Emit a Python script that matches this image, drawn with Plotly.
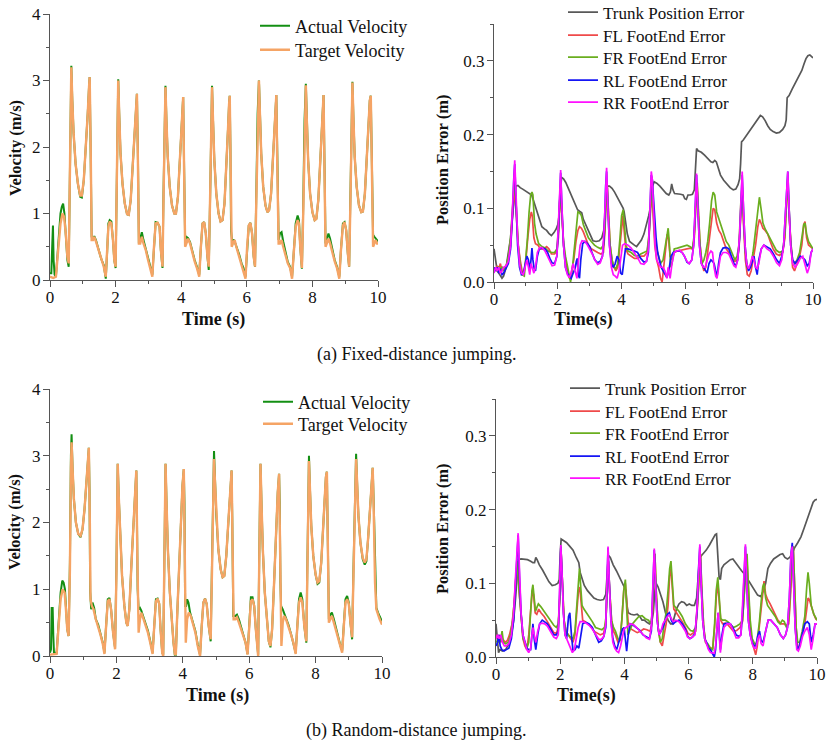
import plotly.graph_objects as go

# ---------------- DATA ----------------
# (a) Fixed-distance jumping : velocity (time s, m/s)
fixed_actual_vel = [
 (0.00,0.1),(0.04,0.1),(0.07,0.55),(0.09,0.82),(0.11,0.3),(0.14,0.08),(0.18,0.05),(0.25,0.5),(0.32,1.0),(0.36,1.1),(0.40,1.15),(0.44,1.0),(0.48,0.7),(0.53,0.3),(0.57,0.2),(0.60,1.3),(0.63,2.9),(0.65,3.22),
 (0.68,2.7),(0.72,2.2),(0.78,1.75),(0.85,1.45),(0.92,1.25),(0.97,1.24),(1.03,1.5),(1.09,1.95),(1.15,2.5),(1.19,2.9),(1.21,3.05),(1.23,2.3),(1.25,1.05),(1.27,0.65),(1.31,0.6),(1.35,0.66),(1.40,0.6),(1.48,0.45),(1.56,0.32),(1.64,0.22),(1.70,0.02),(1.74,0.4),(1.78,0.85),(1.82,0.9),(1.87,0.88),(1.92,0.6),(1.96,0.3),(2.00,0.18),(2.03,1.3),(2.06,2.5),(2.08,3.02),
 (2.11,2.5),(2.15,1.9),(2.21,1.45),(2.28,1.15),(2.35,0.99),(2.40,0.98),(2.46,1.2),(2.52,1.7),(2.58,2.3),(2.62,2.65),(2.65,2.8),(2.68,1.9),(2.71,0.55),(2.75,0.62),(2.80,0.72),(2.85,0.6),(2.92,0.45),(2.99,0.3),(3.06,0.2),(3.12,0.08),(3.17,0.5),(3.22,0.87),(3.28,0.86),(3.34,0.8),(3.38,0.45),(3.43,0.18),(3.46,1.3),(3.49,2.4),(3.52,2.92),
 (3.55,2.4),(3.59,1.85),(3.65,1.4),(3.72,1.12),(3.79,1.0),(3.84,1.0),(3.90,1.25),(3.96,1.8),(4.01,2.4),(4.04,2.7),(4.06,2.75),(4.08,2.0),(4.10,0.93),(4.12,0.6),(4.16,0.65),(4.21,0.63),(4.27,0.57),(4.34,0.42),(4.41,0.3),(4.48,0.2),(4.55,0.08),(4.60,0.5),(4.65,0.85),(4.70,0.87),(4.75,0.7),(4.80,0.35),(4.84,0.15),(4.88,1.2),(4.91,2.4),(4.94,2.92),
 (4.97,2.4),(5.01,1.8),(5.07,1.3),(5.14,1.0),(5.20,0.88),(5.26,0.9),(5.32,1.15),(5.38,1.7),(5.43,2.3),(5.46,2.65),(5.48,2.77),(5.50,2.0),(5.52,0.73),(5.55,0.6),(5.60,0.6),(5.65,0.55),(5.70,0.48),(5.77,0.38),(5.84,0.25),(5.90,0.18),(5.96,0.05),(6.01,0.5),(6.06,0.82),(6.11,0.86),(6.16,0.7),(6.21,0.35),(6.25,0.2),(6.29,1.3),(6.33,2.5),(6.37,3.0),
 (6.40,2.5),(6.44,1.9),(6.50,1.4),(6.57,1.12),(6.63,1.02),(6.68,1.05),(6.74,1.3),(6.80,1.85),(6.85,2.4),(6.88,2.7),(6.90,2.78),(6.93,1.9),(6.97,0.6),(7.01,0.7),(7.06,0.72),(7.11,0.58),(7.18,0.4),(7.25,0.27),(7.32,0.2),(7.38,0.05),(7.43,0.4),(7.49,0.85),(7.55,0.97),(7.59,0.9),(7.63,0.5),(7.68,0.17),(7.72,1.1),(7.76,2.4),(7.80,2.95),
 (7.83,2.4),(7.87,1.8),(7.93,1.3),(8.00,1.02),(8.07,0.9),(8.12,0.92),(8.18,1.2),(8.24,1.8),(8.29,2.4),(8.32,2.7),(8.34,2.78),(8.37,1.7),(8.40,0.55),(8.44,0.62),(8.49,0.7),(8.54,0.62),(8.61,0.45),(8.68,0.3),(8.75,0.2),(8.82,0.05),(8.87,0.45),(8.93,0.85),(8.98,0.87),(9.03,0.75),(9.08,0.4),(9.12,0.2),(9.16,1.3),(9.19,2.4),(9.22,2.98),
 (9.25,2.45),(9.29,1.85),(9.35,1.4),(9.42,1.12),(9.49,1.02),(9.54,1.03),(9.60,1.3),(9.66,1.85),(9.71,2.4),(9.75,2.7),(9.78,2.77),(9.80,1.9),(9.82,1.05),(9.85,0.68),(9.89,0.65),(9.93,0.62),(9.97,0.6),(10.0,0.58)]

fixed_target_vel = [
 (0.00,0.05),(0.10,0.03),(0.18,0.05),(0.25,0.45),(0.32,0.85),(0.38,1.0),(0.43,0.95),(0.48,0.7),(0.53,0.35),(0.57,0.25),(0.60,1.2),(0.63,2.8),(0.65,3.2),
 (0.68,2.7),(0.72,2.2),(0.78,1.75),(0.85,1.45),(0.92,1.27),(0.97,1.27),(1.03,1.5),(1.09,1.95),(1.15,2.5),(1.19,2.9),(1.21,3.05),(1.24,2.0),(1.27,0.6),(1.31,0.6),(1.35,0.65),(1.40,0.58),(1.48,0.45),(1.56,0.32),(1.64,0.2),(1.70,0.05),(1.74,0.4),(1.78,0.8),(1.82,0.88),(1.87,0.85),(1.92,0.6),(1.96,0.3),(2.00,0.2),(2.03,1.2),(2.06,2.4),(2.08,3.0),
 (2.11,2.5),(2.15,1.9),(2.21,1.45),(2.28,1.15),(2.35,0.99),(2.40,0.98),(2.46,1.2),(2.52,1.7),(2.58,2.3),(2.62,2.65),(2.65,2.8),(2.68,1.8),(2.71,0.55),(2.75,0.55),(2.80,0.65),(2.85,0.55),(2.92,0.45),(2.99,0.3),(3.06,0.18),(3.12,0.05),(3.17,0.5),(3.22,0.85),(3.28,0.86),(3.34,0.8),(3.38,0.45),(3.43,0.2),(3.46,1.2),(3.49,2.3),(3.52,2.9),
 (3.55,2.4),(3.59,1.85),(3.65,1.4),(3.72,1.12),(3.79,1.0),(3.84,1.0),(3.90,1.25),(3.96,1.8),(4.01,2.4),(4.04,2.7),(4.06,2.75),(4.09,1.6),(4.12,0.5),(4.16,0.55),(4.21,0.62),(4.27,0.55),(4.34,0.4),(4.41,0.28),(4.48,0.18),(4.55,0.05),(4.60,0.5),(4.65,0.85),(4.70,0.87),(4.75,0.7),(4.80,0.35),(4.84,0.2),(4.88,1.2),(4.91,2.3),(4.94,2.9),
 (4.97,2.4),(5.01,1.8),(5.07,1.3),(5.14,1.0),(5.20,0.88),(5.26,0.9),(5.32,1.15),(5.38,1.7),(5.43,2.3),(5.46,2.65),(5.48,2.77),(5.51,1.6),(5.54,0.5),(5.58,0.55),(5.63,0.6),(5.68,0.5),(5.75,0.38),(5.82,0.25),(5.89,0.15),(5.96,0.02),(6.01,0.5),(6.06,0.82),(6.11,0.86),(6.16,0.7),(6.21,0.35),(6.25,0.2),(6.29,1.2),(6.33,2.4),(6.37,3.0),
 (6.40,2.5),(6.44,1.9),(6.50,1.4),(6.57,1.12),(6.63,1.02),(6.68,1.05),(6.74,1.3),(6.80,1.85),(6.85,2.4),(6.88,2.7),(6.90,2.78),(6.93,1.7),(6.97,0.55),(7.01,0.55),(7.06,0.6),(7.11,0.5),(7.18,0.38),(7.25,0.25),(7.32,0.18),(7.38,0.02),(7.43,0.4),(7.49,0.8),(7.55,0.9),(7.59,0.85),(7.63,0.5),(7.68,0.18),(7.72,1.0),(7.76,2.3),(7.80,2.93),
 (7.83,2.4),(7.87,1.8),(7.93,1.3),(8.00,1.02),(8.07,0.9),(8.12,0.92),(8.18,1.2),(8.24,1.8),(8.29,2.4),(8.32,2.7),(8.34,2.78),(8.37,1.6),(8.40,0.5),(8.44,0.55),(8.49,0.62),(8.54,0.55),(8.61,0.4),(8.68,0.28),(8.75,0.18),(8.82,0.02),(8.87,0.45),(8.93,0.82),(8.98,0.87),(9.03,0.75),(9.08,0.4),(9.12,0.2),(9.16,1.2),(9.19,2.3),(9.22,2.97),
 (9.25,2.45),(9.29,1.85),(9.35,1.4),(9.42,1.12),(9.49,1.02),(9.54,1.03),(9.60,1.3),(9.66,1.85),(9.71,2.4),(9.75,2.7),(9.78,2.77),(9.81,1.6),(9.85,0.5),(9.89,0.55),(9.93,0.6),(9.97,0.55),(10.0,0.55)]

# (a) Fixed-distance jumping : position errors (time s, m)
fixed_trunk_err = [
 (0.00,0.045),(0.05,0.03),(0.10,0.015),(0.18,0.01),(0.25,0.005),(0.30,0.008),(0.38,0.02),(0.45,0.04),(0.52,0.06),(0.58,0.09),(0.63,0.115),(0.68,0.13),(0.75,0.131),(0.82,0.128),(0.90,0.126),(1.00,0.123),(1.10,0.12),(1.18,0.118),(1.22,0.113),(1.28,0.105),(1.35,0.093),(1.42,0.083),(1.50,0.075),(1.58,0.072),(1.65,0.07),(1.72,0.066),(1.80,0.063),(1.88,0.067),(1.95,0.072),(2.00,0.078),(2.04,0.09),(2.08,0.125),(2.12,0.142),(2.18,0.14),(2.25,0.135),(2.32,0.128),(2.40,0.12),(2.48,0.112),(2.55,0.105),(2.62,0.098),(2.68,0.096),(2.75,0.094),(2.80,0.085),(2.88,0.077),(2.95,0.07),(3.02,0.062),(3.10,0.056),(3.20,0.055),(3.30,0.056),(3.38,0.06),(3.44,0.07),(3.50,0.1),(3.55,0.13),(3.62,0.13),(3.70,0.127),(3.78,0.122),(3.86,0.116),(3.94,0.11),(4.00,0.105),(4.05,0.1),(4.08,0.095),(4.12,0.08),(4.18,0.065),(4.25,0.055),(4.32,0.052),(4.40,0.05),(4.47,0.048),(4.55,0.052),(4.62,0.057),(4.70,0.065),(4.78,0.077),(4.85,0.09),(4.92,0.105),(4.97,0.13),(5.02,0.136),(5.10,0.134),(5.20,0.13),(5.30,0.125),(5.40,0.12),(5.48,0.118),(5.53,0.122),(5.57,0.133),(5.61,0.125),(5.66,0.12),(5.75,0.12),(5.85,0.119),(5.93,0.118),(5.98,0.113),(6.03,0.112),(6.08,0.118),(6.15,0.118),(6.22,0.119),(6.28,0.125),(6.32,0.16),(6.35,0.181),(6.40,0.178),(6.50,0.176),(6.60,0.172),(6.70,0.168),(6.80,0.163),(6.86,0.162),(6.92,0.165),(6.97,0.163),(7.03,0.153),(7.10,0.145),(7.20,0.138),(7.30,0.133),(7.40,0.128),(7.50,0.125),(7.58,0.126),(7.65,0.132),(7.70,0.14),(7.73,0.16),(7.76,0.19),(7.82,0.193),(7.90,0.198),(8.00,0.204),(8.10,0.21),(8.20,0.217),(8.28,0.222),(8.35,0.226),(8.42,0.224),(8.50,0.219),(8.58,0.212),(8.66,0.207),(8.75,0.204),(8.85,0.202),(8.95,0.203),(9.05,0.207),(9.12,0.212),(9.16,0.22),(9.19,0.25),(9.25,0.253),(9.35,0.262),(9.45,0.27),(9.55,0.278),(9.65,0.287),(9.72,0.296),(9.78,0.303),(9.84,0.307),(9.90,0.308),(9.95,0.306),(10.0,0.304)]

fixed_fl_err = [
 (0.00,0.02),(0.05,0.015),(0.10,0.022),(0.15,0.018),(0.20,0.025),(0.25,0.015),(0.30,0.018),(0.38,0.022),(0.45,0.03),(0.52,0.05),(0.58,0.09),(0.62,0.12),(0.65,0.13),(0.70,0.09),(0.76,0.05),(0.82,0.03),(0.88,0.015),(0.94,0.012),(1.00,0.03),(1.06,0.06),(1.12,0.085),(1.17,0.095),(1.20,0.09),(1.25,0.06),(1.30,0.052),(1.38,0.05),(1.45,0.045),(1.55,0.045),(1.65,0.048),(1.72,0.045),(1.80,0.038),(1.90,0.038),(1.97,0.042),(2.02,0.06),(2.06,0.11),(2.09,0.13),(2.13,0.09),(2.18,0.05),(2.24,0.03),(2.30,0.015),(2.36,0.005),(2.42,0.012),(2.50,0.03),(2.57,0.055),(2.63,0.07),(2.68,0.075),(2.74,0.073),(2.80,0.068),(2.88,0.058),(2.96,0.05),(3.05,0.045),(3.15,0.042),(3.25,0.04),(3.35,0.038),(3.43,0.04),(3.48,0.07),(3.52,0.125),(3.55,0.13),(3.59,0.09),(3.64,0.05),(3.70,0.03),(3.76,0.02),(3.82,0.015),(3.88,0.02),(3.95,0.05),(4.00,0.08),(4.04,0.09),(4.08,0.07),(4.13,0.045),(4.20,0.038),(4.30,0.035),(4.40,0.032),(4.50,0.032),(4.60,0.035),(4.70,0.035),(4.80,0.04),(4.86,0.06),(4.91,0.11),(4.95,0.13),(4.99,0.09),(5.04,0.05),(5.10,0.03),(5.16,0.02),(5.22,0.005),(5.27,0.0),(5.32,0.02),(5.38,0.045),(5.43,0.065),(5.47,0.06),(5.52,0.035),(5.58,0.03),(5.65,0.04),(5.75,0.042),(5.85,0.043),(5.95,0.044),(6.05,0.045),(6.15,0.046),(6.22,0.045),(6.28,0.06),(6.33,0.11),(6.37,0.13),(6.41,0.09),(6.46,0.05),(6.52,0.025),(6.58,0.015),(6.64,0.02),(6.70,0.04),(6.76,0.06),(6.82,0.085),(6.87,0.1),(6.92,0.098),(6.98,0.08),(7.05,0.07),(7.12,0.065),(7.20,0.055),(7.28,0.045),(7.36,0.04),(7.45,0.032),(7.55,0.028),(7.62,0.03),(7.68,0.045),(7.74,0.1),(7.78,0.125),(7.82,0.08),(7.88,0.03),(7.94,0.01),(8.00,0.008),(8.06,0.015),(8.12,0.03),(8.20,0.05),(8.27,0.075),(8.32,0.085),(8.37,0.08),(8.43,0.073),(8.50,0.07),(8.58,0.065),(8.66,0.055),(8.75,0.045),(8.85,0.038),(8.95,0.036),(9.05,0.04),(9.12,0.06),(9.17,0.11),(9.21,0.13),(9.25,0.09),(9.30,0.05),(9.36,0.02),(9.42,0.015),(9.50,0.025),(9.58,0.035),(9.65,0.05),(9.71,0.078),(9.75,0.082),(9.80,0.06),(9.86,0.05),(9.92,0.048),(10.0,0.045)]

fixed_fr_err = [
 (0.00,0.015),(0.05,0.02),(0.10,0.015),(0.15,0.02),(0.20,0.018),(0.25,0.02),(0.30,0.015),(0.38,0.02),(0.45,0.035),(0.52,0.06),(0.58,0.1),(0.62,0.13),(0.65,0.14),(0.70,0.1),(0.76,0.05),(0.82,0.025),(0.88,0.01),(0.95,0.008),(1.00,0.03),(1.05,0.06),(1.10,0.095),(1.15,0.118),(1.19,0.122),(1.22,0.118),(1.27,0.08),(1.32,0.065),(1.40,0.052),(1.50,0.048),(1.60,0.046),(1.70,0.042),(1.80,0.04),(1.90,0.04),(1.97,0.045),(2.02,0.07),(2.06,0.11),(2.09,0.125),(2.13,0.09),(2.18,0.055),(2.24,0.035),(2.30,0.02),(2.36,0.005),(2.40,0.0),(2.45,0.015),(2.52,0.045),(2.58,0.08),(2.63,0.095),(2.68,0.094),(2.74,0.09),(2.80,0.078),(2.88,0.068),(2.96,0.06),(3.05,0.055),(3.15,0.05),(3.25,0.047),(3.35,0.045),(3.43,0.05),(3.48,0.075),(3.52,0.125),(3.55,0.13),(3.59,0.09),(3.64,0.05),(3.70,0.03),(3.76,0.02),(3.82,0.018),(3.88,0.025),(3.95,0.06),(4.00,0.09),(4.05,0.098),(4.09,0.08),(4.14,0.05),(4.20,0.042),(4.30,0.04),(4.40,0.036),(4.50,0.035),(4.60,0.038),(4.70,0.04),(4.80,0.042),(4.86,0.065),(4.91,0.115),(4.95,0.135),(4.99,0.1),(5.04,0.06),(5.10,0.045),(5.16,0.035),(5.22,0.025),(5.30,0.03),(5.36,0.045),(5.42,0.065),(5.46,0.073),(5.50,0.05),(5.54,0.02),(5.58,0.025),(5.65,0.045),(5.75,0.046),(5.85,0.047),(5.95,0.048),(6.05,0.05),(6.15,0.048),(6.22,0.045),(6.28,0.065),(6.33,0.115),(6.37,0.135),(6.41,0.095),(6.46,0.05),(6.52,0.025),(6.58,0.03),(6.64,0.04),(6.70,0.055),(6.76,0.08),(6.82,0.11),(6.87,0.122),(6.92,0.118),(6.98,0.095),(7.05,0.085),(7.12,0.075),(7.20,0.065),(7.28,0.055),(7.36,0.05),(7.45,0.04),(7.55,0.03),(7.62,0.035),(7.68,0.05),(7.74,0.11),(7.78,0.13),(7.82,0.085),(7.88,0.04),(7.94,0.02),(8.00,0.018),(8.06,0.025),(8.12,0.04),(8.20,0.07),(8.27,0.1),(8.32,0.115),(8.37,0.1),(8.43,0.08),(8.50,0.072),(8.58,0.065),(8.66,0.058),(8.75,0.05),(8.85,0.043),(8.95,0.04),(9.05,0.042),(9.12,0.065),(9.17,0.115),(9.21,0.14),(9.25,0.1),(9.30,0.055),(9.36,0.03),(9.42,0.025),(9.50,0.03),(9.58,0.04),(9.65,0.06),(9.71,0.078),(9.75,0.08),(9.80,0.065),(9.86,0.055),(9.92,0.05),(10.0,0.045)]

fixed_rl_err = [
 (0.00,0.02),(0.05,0.015),(0.10,0.02),(0.15,0.012),(0.20,0.018),(0.25,0.01),(0.30,0.012),(0.38,0.018),(0.45,0.025),(0.52,0.045),(0.58,0.09),(0.62,0.14),(0.65,0.16),(0.69,0.11),(0.74,0.05),(0.80,0.02),(0.86,0.01),(0.92,0.012),(0.98,0.025),(1.03,0.035),(1.08,0.03),(1.12,0.015),(1.16,0.03),(1.19,0.046),(1.22,0.03),(1.26,0.018),(1.30,0.015),(1.36,0.035),(1.42,0.045),(1.50,0.046),(1.60,0.045),(1.68,0.04),(1.75,0.032),(1.82,0.026),(1.90,0.025),(1.97,0.035),(2.02,0.07),(2.06,0.12),(2.09,0.148),(2.13,0.1),(2.18,0.05),(2.24,0.02),(2.30,0.012),(2.36,0.008),(2.42,0.005),(2.48,0.012),(2.54,0.018),(2.58,0.028),(2.61,0.032),(2.64,0.01),(2.68,0.005),(2.72,0.03),(2.78,0.052),(2.85,0.055),(2.93,0.052),(3.00,0.048),(3.08,0.04),(3.16,0.03),(3.25,0.026),(3.33,0.028),(3.40,0.035),(3.45,0.06),(3.50,0.13),(3.53,0.15),(3.57,0.1),(3.62,0.05),(3.68,0.025),(3.74,0.02),(3.80,0.025),(3.86,0.035),(3.92,0.03),(3.97,0.012),(4.02,0.01),(4.07,0.03),(4.12,0.045),(4.20,0.045),(4.30,0.044),(4.40,0.042),(4.50,0.04),(4.60,0.032),(4.70,0.027),(4.78,0.028),(4.84,0.04),(4.89,0.09),(4.93,0.145),(4.96,0.14),(5.00,0.11),(5.04,0.09),(5.08,0.06),(5.13,0.04),(5.18,0.03),(5.24,0.02),(5.30,0.015),(5.36,0.01),(5.42,0.006),(5.48,0.015),(5.55,0.035),(5.62,0.04),(5.72,0.042),(5.82,0.042),(5.90,0.04),(5.97,0.035),(6.05,0.027),(6.12,0.025),(6.20,0.03),(6.26,0.05),(6.31,0.11),(6.35,0.145),(6.39,0.1),(6.44,0.05),(6.50,0.025),(6.56,0.02),(6.62,0.015),(6.68,0.012),(6.74,0.025),(6.80,0.03),(6.85,0.028),(6.90,0.025),(6.95,0.015),(6.99,0.006),(7.04,0.025),(7.10,0.04),(7.18,0.046),(7.28,0.047),(7.36,0.045),(7.44,0.035),(7.52,0.025),(7.58,0.022),(7.64,0.03),(7.70,0.06),(7.75,0.12),(7.78,0.145),(7.82,0.1),(7.87,0.05),(7.92,0.025),(7.98,0.015),(8.04,0.02),(8.10,0.03),(8.15,0.035),(8.20,0.02),(8.25,0.01),(8.30,0.03),(8.38,0.045),(8.46,0.05),(8.56,0.048),(8.66,0.045),(8.76,0.038),(8.86,0.03),(8.95,0.025),(9.02,0.035),(9.08,0.05),(9.13,0.09),(9.18,0.14),(9.21,0.15),(9.25,0.1),(9.30,0.05),(9.36,0.03),(9.44,0.025),(9.52,0.03),(9.60,0.035),(9.68,0.033),(9.75,0.03),(9.82,0.022),(9.88,0.025),(9.94,0.04),(10.0,0.045)]

fixed_rr_err = [
 (0.00,0.012),(0.05,0.02),(0.10,0.015),(0.15,0.02),(0.20,0.012),(0.25,0.015),(0.30,0.02),(0.38,0.022),(0.45,0.028),(0.52,0.05),(0.58,0.1),(0.62,0.15),(0.65,0.165),(0.69,0.12),(0.74,0.06),(0.80,0.025),(0.86,0.012),(0.92,0.01),(0.98,0.02),(1.03,0.03),(1.08,0.02),(1.12,0.01),(1.16,0.025),(1.20,0.02),(1.25,0.012),(1.30,0.02),(1.36,0.04),(1.42,0.046),(1.50,0.047),(1.60,0.042),(1.68,0.035),(1.75,0.028),(1.82,0.022),(1.90,0.023),(1.97,0.035),(2.02,0.08),(2.06,0.13),(2.09,0.152),(2.13,0.1),(2.18,0.05),(2.24,0.02),(2.30,0.01),(2.36,0.006),(2.42,0.012),(2.48,0.025),(2.54,0.015),(2.60,0.005),(2.65,0.03),(2.70,0.05),(2.76,0.056),(2.85,0.055),(2.93,0.05),(3.00,0.045),(3.08,0.038),(3.16,0.03),(3.25,0.024),(3.33,0.026),(3.40,0.035),(3.45,0.07),(3.50,0.14),(3.53,0.155),(3.57,0.1),(3.62,0.05),(3.68,0.02),(3.74,0.01),(3.80,0.008),(3.86,0.005),(3.92,0.015),(3.97,0.035),(4.03,0.05),(4.10,0.052),(4.20,0.05),(4.30,0.046),(4.40,0.04),(4.50,0.033),(4.60,0.025),(4.70,0.024),(4.78,0.028),(4.84,0.045),(4.89,0.1),(4.93,0.15),(4.96,0.14),(5.00,0.09),(5.05,0.05),(5.10,0.03),(5.16,0.025),(5.22,0.02),(5.30,0.02),(5.36,0.015),(5.42,0.005),(5.46,0.02),(5.52,0.005),(5.58,0.025),(5.65,0.04),(5.72,0.042),(5.82,0.043),(5.90,0.04),(5.97,0.035),(6.05,0.028),(6.12,0.025),(6.20,0.03),(6.26,0.05),(6.31,0.11),(6.35,0.147),(6.39,0.1),(6.44,0.05),(6.50,0.025),(6.56,0.02),(6.62,0.02),(6.68,0.03),(6.74,0.038),(6.80,0.042),(6.85,0.04),(6.90,0.02),(6.95,0.008),(6.99,0.005),(7.04,0.02),(7.10,0.035),(7.18,0.04),(7.28,0.04),(7.36,0.038),(7.44,0.03),(7.52,0.022),(7.58,0.02),(7.64,0.03),(7.70,0.065),(7.75,0.13),(7.78,0.15),(7.82,0.1),(7.87,0.05),(7.92,0.025),(7.98,0.018),(8.04,0.025),(8.10,0.035),(8.15,0.03),(8.20,0.02),(8.25,0.018),(8.30,0.025),(8.38,0.045),(8.46,0.05),(8.56,0.045),(8.66,0.042),(8.76,0.035),(8.86,0.026),(8.95,0.022),(9.02,0.03),(9.08,0.05),(9.13,0.095),(9.18,0.14),(9.21,0.15),(9.25,0.1),(9.30,0.05),(9.36,0.025),(9.44,0.02),(9.52,0.025),(9.60,0.032),(9.68,0.035),(9.75,0.025),(9.82,0.012),(9.88,0.02),(9.94,0.04),(10.0,0.045)]

# (b) Random-distance jumping : velocity
random_actual_vel = [
 (0.00,0.05),(0.03,0.1),(0.05,0.72),(0.08,0.72),(0.10,0.3),(0.12,0.05),(0.20,0.05),(0.26,0.5),(0.32,0.95),(0.37,1.13),(0.41,1.1),(0.45,1.0),(0.48,0.7),(0.52,0.4),(0.56,0.3),(0.60,1.4),(0.63,3.0),(0.65,3.32),
 (0.68,2.8),(0.72,2.35),(0.78,2.0),(0.85,1.83),(0.92,1.78),(0.98,1.9),(1.04,2.2),(1.10,2.6),(1.14,2.95),(1.17,3.12),(1.19,2.5),(1.21,0.97),(1.24,0.7),(1.28,0.8),(1.33,0.72),(1.38,0.55),(1.45,0.47),(1.52,0.35),(1.59,0.2),(1.64,0.05),(1.69,0.45),(1.74,0.85),(1.79,0.87),(1.84,0.7),(1.90,0.35),(1.96,0.12),(2.00,1.3),(2.02,2.3),(2.04,2.88),
 (2.07,2.4),(2.11,1.8),(2.17,1.2),(2.24,0.75),(2.30,0.5),(2.34,0.45),(2.39,0.7),(2.45,1.35),(2.51,2.0),(2.56,2.5),(2.60,2.78),(2.62,2.0),(2.64,1.0),(2.67,0.7),(2.71,0.72),(2.75,0.68),(2.80,0.6),(2.87,0.5),(2.95,0.38),(3.02,0.22),(3.09,0.05),(3.14,0.45),(3.19,0.85),(3.24,0.86),(3.29,0.78),(3.33,0.4),(3.38,0.05),(3.41,0.02),(3.44,1.4),(3.46,2.4),(3.48,2.88),
 (3.51,2.3),(3.55,1.6),(3.61,0.95),(3.67,0.5),(3.72,0.2),(3.76,0.02),(3.79,0.02),(3.83,0.6),(3.89,1.4),(3.95,2.1),(3.99,2.55),(4.03,2.8),(4.05,2.3),(4.07,0.75),(4.10,0.75),(4.13,0.85),(4.17,0.8),(4.22,0.65),(4.31,0.5),(4.38,0.37),(4.45,0.17),(4.52,0.02),(4.57,0.45),(4.62,0.8),(4.67,0.86),(4.72,0.78),(4.78,0.45),(4.84,0.22),(4.88,1.4),(4.91,2.5),(4.94,3.07),
 (4.97,2.65),(5.01,2.1),(5.07,1.6),(5.14,1.3),(5.20,1.18),(5.25,1.2),(5.31,1.5),(5.37,2.0),(5.42,2.5),(5.45,2.7),(5.47,2.78),(5.49,2.05),(5.52,0.6),(5.58,0.6),(5.63,0.62),(5.69,0.55),(5.76,0.42),(5.83,0.3),(5.89,0.2),(5.95,0.03),(6.00,0.45),(6.05,0.88),(6.10,0.88),(6.15,0.75),(6.20,0.4),(6.25,0.03),(6.27,0.02),(6.30,1.4),(6.32,2.4),(6.34,2.88),
 (6.37,2.3),(6.41,1.6),(6.47,0.95),(6.53,0.5),(6.59,0.22),(6.64,0.13),(6.69,0.4),(6.75,1.1),(6.81,1.9),(6.86,2.45),(6.90,2.73),(6.92,2.3),(6.94,1.1),(6.96,0.75),(7.01,0.7),(7.05,0.65),(7.11,0.58),(7.18,0.47),(7.26,0.33),(7.33,0.2),(7.40,0.05),(7.45,0.45),(7.50,0.85),(7.55,0.95),(7.60,0.85),(7.66,0.45),(7.72,0.2),(7.75,1.3),(7.78,2.4),(7.80,3.0),
 (7.83,2.5),(7.87,1.95),(7.93,1.5),(8.00,1.22),(8.06,1.08),(8.11,1.1),(8.17,1.4),(8.23,1.95),(8.28,2.45),(8.31,2.68),(8.34,2.76),(8.37,1.7),(8.40,0.55),(8.44,0.62),(8.49,0.65),(8.55,0.55),(8.62,0.4),(8.69,0.27),(8.75,0.15),(8.80,0.08),(8.85,0.45),(8.90,0.85),(8.95,0.9),(9.00,0.8),(9.05,0.5),(9.10,0.25),(9.14,1.3),(9.18,2.4),(9.22,3.03),
 (9.25,2.6),(9.29,2.1),(9.35,1.7),(9.42,1.45),(9.48,1.37),(9.53,1.42),(9.58,1.75),(9.63,2.2),(9.68,2.6),(9.72,2.82),(9.75,2.3),(9.79,1.2),(9.83,0.72),(9.88,0.65),(9.93,0.6),(10.0,0.52)]

random_target_vel = [
 (0.00,0.02),(0.10,0.02),(0.20,0.03),(0.26,0.45),(0.32,0.85),(0.38,1.0),(0.44,0.95),(0.48,0.7),(0.52,0.4),(0.56,0.3),(0.60,1.3),(0.63,2.8),(0.65,3.2),
 (0.68,2.8),(0.72,2.35),(0.78,2.0),(0.85,1.83),(0.92,1.8),(0.98,1.9),(1.04,2.2),(1.10,2.6),(1.14,2.95),(1.17,3.12),(1.20,2.0),(1.22,0.85),(1.26,0.75),(1.31,0.7),(1.38,0.55),(1.45,0.45),(1.52,0.32),(1.59,0.18),(1.64,0.03),(1.69,0.45),(1.74,0.82),(1.79,0.85),(1.84,0.7),(1.90,0.35),(1.96,0.1),(2.00,1.2),(2.02,2.2),(2.04,2.88),
 (2.07,2.4),(2.11,1.8),(2.17,1.2),(2.24,0.75),(2.30,0.5),(2.34,0.45),(2.39,0.7),(2.45,1.35),(2.51,2.0),(2.56,2.5),(2.60,2.78),(2.63,1.5),(2.67,0.35),(2.71,0.55),(2.75,0.65),(2.80,0.58),(2.87,0.47),(2.95,0.35),(3.02,0.2),(3.09,0.03),(3.14,0.45),(3.19,0.82),(3.24,0.86),(3.29,0.78),(3.33,0.4),(3.38,0.05),(3.41,0.0),(3.44,1.3),(3.46,2.3),(3.48,2.88),
 (3.51,2.3),(3.55,1.6),(3.61,0.95),(3.67,0.5),(3.72,0.2),(3.76,0.03),(3.79,0.02),(3.83,0.6),(3.89,1.4),(3.95,2.1),(3.99,2.55),(4.03,2.8),(4.06,1.4),(4.09,0.2),(4.13,0.55),(4.18,0.65),(4.24,0.6),(4.31,0.48),(4.38,0.35),(4.45,0.15),(4.52,0.0),(4.57,0.45),(4.62,0.8),(4.67,0.86),(4.72,0.78),(4.78,0.45),(4.84,0.25),(4.88,1.3),(4.91,2.3),(4.94,2.95),
 (4.97,2.6),(5.01,2.1),(5.07,1.6),(5.14,1.3),(5.20,1.18),(5.25,1.2),(5.31,1.5),(5.37,2.0),(5.42,2.5),(5.45,2.7),(5.47,2.78),(5.50,1.6),(5.53,0.55),(5.58,0.55),(5.63,0.58),(5.69,0.5),(5.76,0.4),(5.83,0.3),(5.89,0.2),(5.95,0.02),(6.00,0.45),(6.05,0.82),(6.10,0.85),(6.15,0.75),(6.20,0.4),(6.25,0.02),(6.27,0.0),(6.30,1.3),(6.32,2.3),(6.34,2.88),
 (6.37,2.3),(6.41,1.6),(6.47,0.95),(6.53,0.5),(6.59,0.22),(6.64,0.15),(6.69,0.4),(6.75,1.1),(6.81,1.9),(6.86,2.45),(6.90,2.73),(6.93,1.4),(6.97,0.15),(7.01,0.5),(7.05,0.6),(7.11,0.55),(7.18,0.45),(7.26,0.32),(7.33,0.2),(7.40,0.03),(7.45,0.45),(7.50,0.8),(7.55,0.88),(7.60,0.8),(7.66,0.45),(7.72,0.22),(7.75,1.2),(7.78,2.3),(7.80,2.92),
 (7.83,2.5),(7.87,1.95),(7.93,1.5),(8.00,1.22),(8.06,1.1),(8.11,1.12),(8.17,1.4),(8.23,1.95),(8.28,2.45),(8.31,2.68),(8.34,2.76),(8.37,1.6),(8.40,0.5),(8.44,0.55),(8.49,0.6),(8.55,0.5),(8.62,0.38),(8.69,0.25),(8.75,0.12),(8.80,0.05),(8.85,0.45),(8.90,0.8),(8.95,0.85),(9.00,0.78),(9.05,0.5),(9.10,0.28),(9.14,1.2),(9.18,2.3),(9.22,2.95),
 (9.25,2.6),(9.29,2.1),(9.35,1.7),(9.42,1.47),(9.48,1.4),(9.53,1.45),(9.58,1.75),(9.63,2.2),(9.68,2.6),(9.72,2.82),(9.75,2.2),(9.79,1.1),(9.83,0.7),(9.88,0.62),(9.93,0.55),(10.0,0.47)]

# (b) Random-distance jumping : position errors
random_trunk_err = [
 (0.00,0.045),(0.04,0.02),(0.08,0.006),(0.12,0.01),(0.20,0.008),(0.30,0.01),(0.40,0.018),(0.48,0.03),(0.55,0.05),(0.61,0.08),(0.66,0.11),(0.70,0.132),(0.78,0.133),(0.88,0.133),(0.98,0.132),(1.08,0.13),(1.15,0.128),(1.20,0.128),(1.24,0.135),(1.28,0.132),(1.35,0.125),(1.45,0.118),(1.55,0.11),(1.65,0.102),(1.75,0.097),(1.85,0.098),(1.93,0.1),(1.97,0.105),(2.00,0.14),(2.03,0.16),(2.10,0.158),(2.20,0.155),(2.30,0.15),(2.40,0.145),(2.50,0.135),(2.58,0.128),(2.62,0.115),(2.68,0.105),(2.75,0.097),(2.85,0.09),(2.95,0.085),(3.05,0.08),(3.15,0.078),(3.25,0.077),(3.35,0.078),(3.42,0.085),(3.46,0.11),(3.50,0.138),(3.56,0.135),(3.65,0.125),(3.75,0.117),(3.85,0.108),(3.95,0.1),(4.05,0.09),(4.08,0.07),(4.12,0.06),(4.20,0.058),(4.30,0.057),(4.40,0.058),(4.48,0.055),(4.55,0.05),(4.62,0.05),(4.70,0.047),(4.78,0.045),(4.85,0.048),(4.90,0.06),(4.95,0.09),(4.99,0.1),(5.05,0.095),(5.12,0.085),(5.20,0.075),(5.28,0.06),(5.36,0.05),(5.44,0.045),(5.50,0.045),(5.56,0.055),(5.62,0.065),(5.70,0.072),(5.78,0.075),(5.86,0.074),(5.94,0.07),(6.02,0.072),(6.10,0.07),(6.18,0.07),(6.25,0.08),(6.30,0.11),(6.35,0.135),(6.45,0.14),(6.55,0.145),(6.65,0.152),(6.75,0.16),(6.83,0.166),(6.87,0.167),(6.91,0.14),(6.95,0.108),(6.99,0.105),(7.03,0.12),(7.10,0.125),(7.20,0.128),(7.30,0.132),(7.38,0.133),(7.46,0.128),(7.55,0.122),(7.65,0.117),(7.75,0.112),(7.85,0.105),(7.95,0.098),(8.05,0.09),(8.15,0.084),(8.25,0.082),(8.33,0.09),(8.40,0.1),(8.47,0.12),(8.55,0.127),(8.65,0.133),(8.75,0.136),(8.85,0.139),(8.93,0.14),(9.00,0.135),(9.08,0.133),(9.15,0.135),(9.22,0.14),(9.30,0.148),(9.40,0.155),(9.50,0.163),(9.60,0.175),(9.70,0.188),(9.80,0.2),(9.88,0.21),(9.94,0.213),(10.0,0.214)]

random_fl_err = [
 (0.00,0.03),(0.05,0.025),(0.10,0.03),(0.15,0.02),(0.20,0.025),(0.28,0.02),(0.35,0.022),(0.42,0.03),(0.50,0.045),(0.56,0.07),(0.62,0.11),(0.67,0.13),(0.72,0.09),(0.78,0.05),(0.84,0.025),(0.90,0.015),(0.96,0.01),(1.02,0.03),(1.08,0.07),(1.13,0.09),(1.17,0.085),(1.22,0.06),(1.27,0.058),(1.33,0.065),(1.40,0.06),(1.50,0.055),(1.60,0.048),(1.70,0.04),(1.80,0.033),(1.88,0.032),(1.94,0.04),(1.99,0.08),(2.03,0.14),(2.07,0.1),(2.12,0.05),(2.18,0.035),(2.25,0.03),(2.32,0.025),(2.40,0.02),(2.46,0.03),(2.52,0.06),(2.57,0.09),(2.61,0.095),(2.65,0.07),(2.70,0.05),(2.78,0.048),(2.86,0.045),(2.95,0.042),(3.05,0.035),(3.15,0.032),(3.25,0.03),(3.35,0.032),(3.42,0.045),(3.46,0.09),(3.50,0.13),(3.54,0.09),(3.60,0.05),(3.66,0.035),(3.72,0.03),(3.80,0.02),(3.86,0.022),(3.92,0.05),(3.98,0.09),(4.03,0.1),(4.07,0.07),(4.12,0.045),(4.20,0.038),(4.30,0.035),(4.40,0.033),(4.50,0.035),(4.60,0.038),(4.70,0.037),(4.80,0.035),(4.86,0.045),(4.91,0.1),(4.95,0.14),(4.99,0.09),(5.05,0.04),(5.12,0.02),(5.18,0.015),(5.24,0.03),(5.30,0.045),(5.36,0.07),(5.41,0.11),(5.45,0.12),(5.49,0.09),(5.54,0.065),(5.62,0.06),(5.70,0.055),(5.80,0.048),(5.90,0.04),(5.98,0.032),(6.06,0.03),(6.14,0.033),(6.22,0.035),(6.28,0.07),(6.33,0.12),(6.37,0.14),(6.41,0.09),(6.47,0.04),(6.53,0.02),(6.60,0.015),(6.68,0.012),(6.75,0.012),(6.81,0.04),(6.86,0.08),(6.91,0.1),(6.95,0.075),(7.00,0.05),(7.06,0.045),(7.14,0.046),(7.22,0.044),(7.30,0.04),(7.40,0.035),(7.50,0.036),(7.60,0.04),(7.68,0.048),(7.73,0.08),(7.78,0.12),(7.82,0.13),(7.86,0.09),(7.92,0.04),(7.98,0.02),(8.04,0.01),(8.09,0.003),(8.14,0.015),(8.20,0.04),(8.26,0.07),(8.31,0.095),(8.35,0.103),(8.40,0.085),(8.46,0.078),(8.54,0.072),(8.62,0.065),(8.70,0.058),(8.78,0.05),(8.88,0.045),(8.98,0.045),(9.05,0.042),(9.12,0.045),(9.17,0.08),(9.22,0.13),(9.26,0.15),(9.30,0.1),(9.35,0.04),(9.40,0.012),(9.46,0.015),(9.54,0.03),(9.62,0.045),(9.68,0.065),(9.72,0.08),(9.76,0.078),(9.82,0.068),(9.90,0.058),(9.96,0.052),(10.0,0.05)]

random_fr_err = [
 (0.00,0.02),(0.05,0.022),(0.10,0.02),(0.15,0.025),(0.19,0.035),(0.23,0.02),(0.30,0.018),(0.38,0.02),(0.45,0.03),(0.52,0.05),(0.58,0.08),(0.63,0.115),(0.67,0.13),(0.72,0.09),(0.78,0.05),(0.84,0.025),(0.90,0.02),(0.96,0.012),(1.02,0.02),(1.07,0.06),(1.12,0.09),(1.15,0.098),(1.19,0.08),(1.23,0.062),(1.28,0.068),(1.32,0.072),(1.40,0.068),(1.50,0.062),(1.60,0.056),(1.70,0.05),(1.80,0.043),(1.88,0.04),(1.94,0.045),(1.99,0.085),(2.03,0.14),(2.07,0.1),(2.12,0.05),(2.18,0.035),(2.25,0.03),(2.32,0.027),(2.40,0.025),(2.46,0.035),(2.51,0.07),(2.56,0.105),(2.60,0.12),(2.64,0.095),(2.68,0.07),(2.74,0.065),(2.82,0.06),(2.90,0.055),(3.00,0.048),(3.10,0.04),(3.20,0.038),(3.30,0.037),(3.38,0.04),(3.43,0.055),(3.47,0.1),(3.50,0.13),(3.54,0.09),(3.60,0.05),(3.66,0.04),(3.72,0.035),(3.80,0.025),(3.86,0.022),(3.92,0.05),(3.98,0.09),(4.03,0.105),(4.07,0.065),(4.11,0.03),(4.16,0.035),(4.25,0.045),(4.35,0.05),(4.45,0.055),(4.55,0.056),(4.65,0.052),(4.75,0.05),(4.82,0.045),(4.87,0.06),(4.91,0.11),(4.95,0.14),(4.99,0.09),(5.05,0.04),(5.12,0.02),(5.18,0.025),(5.24,0.045),(5.30,0.06),(5.36,0.09),(5.41,0.12),(5.45,0.13),(5.49,0.1),(5.54,0.07),(5.62,0.066),(5.70,0.062),(5.80,0.055),(5.90,0.045),(5.98,0.04),(6.06,0.036),(6.14,0.035),(6.22,0.04),(6.28,0.075),(6.33,0.12),(6.37,0.14),(6.41,0.095),(6.47,0.04),(6.53,0.02),(6.60,0.018),(6.68,0.012),(6.75,0.01),(6.81,0.045),(6.86,0.09),(6.91,0.108),(6.95,0.08),(7.00,0.052),(7.06,0.05),(7.14,0.05),(7.22,0.048),(7.30,0.045),(7.40,0.04),(7.50,0.042),(7.60,0.045),(7.68,0.05),(7.73,0.085),(7.78,0.125),(7.82,0.14),(7.86,0.1),(7.92,0.05),(7.98,0.025),(8.04,0.02),(8.09,0.015),(8.14,0.025),(8.20,0.045),(8.26,0.075),(8.31,0.095),(8.35,0.1),(8.40,0.08),(8.46,0.07),(8.54,0.065),(8.62,0.06),(8.70,0.055),(8.78,0.048),(8.85,0.045),(8.92,0.05),(8.98,0.048),(9.05,0.04),(9.12,0.05),(9.17,0.09),(9.22,0.14),(9.26,0.15),(9.30,0.1),(9.35,0.04),(9.40,0.02),(9.46,0.02),(9.54,0.035),(9.62,0.055),(9.68,0.095),(9.72,0.115),(9.76,0.1),(9.82,0.07),(9.90,0.058),(9.96,0.052),(10.0,0.05)]

random_rl_err = [
 (0.00,0.015),(0.05,0.02),(0.09,0.03),(0.13,0.015),(0.18,0.01),(0.25,0.008),(0.32,0.01),(0.40,0.012),(0.48,0.025),(0.55,0.05),(0.61,0.1),(0.66,0.15),(0.69,0.165),(0.73,0.11),(0.78,0.06),(0.84,0.03),(0.90,0.02),(0.96,0.012),(1.02,0.01),(1.08,0.01),(1.12,0.03),(1.15,0.045),(1.19,0.025),(1.24,0.01),(1.30,0.03),(1.36,0.045),(1.44,0.05),(1.52,0.048),(1.60,0.045),(1.70,0.038),(1.80,0.03),(1.88,0.03),(1.94,0.035),(1.98,0.08),(2.02,0.15),(2.06,0.11),(2.10,0.06),(2.15,0.03),(2.20,0.025),(2.26,0.055),(2.30,0.06),(2.35,0.03),(2.40,0.008),(2.46,0.01),(2.52,0.015),(2.58,0.012),(2.64,0.03),(2.70,0.045),(2.80,0.047),(2.90,0.045),(3.00,0.04),(3.10,0.03),(3.20,0.02),(3.28,0.022),(3.36,0.028),(3.42,0.04),(3.46,0.1),(3.49,0.148),(3.53,0.1),(3.58,0.05),(3.64,0.025),(3.70,0.015),(3.76,0.01),(3.82,0.02),(3.88,0.03),(3.94,0.038),(3.99,0.04),(4.03,0.025),(4.07,0.008),(4.12,0.03),(4.18,0.045),(4.28,0.043),(4.38,0.04),(4.48,0.036),(4.58,0.03),(4.68,0.027),(4.78,0.025),(4.84,0.035),(4.89,0.09),(4.93,0.145),(4.97,0.1),(5.02,0.05),(5.08,0.03),(5.14,0.035),(5.20,0.04),(5.27,0.05),(5.34,0.058),(5.40,0.06),(5.46,0.05),(5.52,0.045),(5.60,0.048),(5.70,0.05),(5.80,0.045),(5.90,0.038),(5.97,0.028),(6.04,0.025),(6.12,0.027),(6.20,0.032),(6.26,0.06),(6.31,0.12),(6.35,0.15),(6.39,0.1),(6.44,0.05),(6.50,0.025),(6.56,0.02),(6.62,0.012),(6.68,0.01),(6.74,0.005),(6.80,0.0),(6.84,0.01),(6.88,0.04),(6.92,0.06),(6.96,0.03),(6.99,0.01),(7.04,0.03),(7.10,0.045),(7.20,0.046),(7.30,0.045),(7.40,0.038),(7.48,0.03),(7.56,0.028),(7.63,0.03),(7.68,0.06),(7.73,0.12),(7.77,0.15),(7.81,0.1),(7.86,0.05),(7.92,0.03),(7.98,0.02),(8.04,0.015),(8.10,0.015),(8.16,0.03),(8.21,0.035),(8.26,0.022),(8.32,0.02),(8.40,0.035),(8.48,0.05),(8.56,0.05),(8.66,0.045),(8.76,0.04),(8.86,0.03),(8.95,0.025),(9.02,0.03),(9.08,0.04),(9.14,0.08),(9.19,0.14),(9.23,0.155),(9.27,0.1),(9.32,0.04),(9.37,0.015),(9.42,0.01),(9.48,0.02),(9.55,0.035),(9.62,0.045),(9.70,0.048),(9.76,0.045),(9.82,0.02),(9.88,0.03),(9.94,0.045),(10.0,0.045)]

random_rr_err = [
 (0.00,0.025),(0.05,0.03),(0.10,0.025),(0.15,0.03),(0.20,0.02),(0.26,0.015),(0.32,0.015),(0.40,0.018),(0.48,0.03),(0.55,0.06),(0.61,0.11),(0.66,0.16),(0.69,0.168),(0.73,0.12),(0.78,0.06),(0.84,0.03),(0.90,0.018),(0.96,0.01),(1.02,0.006),(1.08,0.012),(1.12,0.03),(1.15,0.04),(1.19,0.03),(1.24,0.02),(1.30,0.035),(1.36,0.045),(1.44,0.046),(1.52,0.045),(1.60,0.042),(1.70,0.035),(1.80,0.027),(1.88,0.025),(1.94,0.03),(1.98,0.09),(2.02,0.152),(2.06,0.11),(2.10,0.06),(2.15,0.03),(2.20,0.025),(2.26,0.02),(2.32,0.012),(2.38,0.006),(2.44,0.01),(2.50,0.025),(2.56,0.04),(2.62,0.048),(2.70,0.048),(2.80,0.046),(2.90,0.043),(3.00,0.038),(3.10,0.03),(3.20,0.024),(3.28,0.024),(3.36,0.028),(3.42,0.045),(3.46,0.11),(3.49,0.15),(3.53,0.1),(3.58,0.05),(3.64,0.02),(3.70,0.012),(3.76,0.008),(3.82,0.006),(3.88,0.015),(3.94,0.03),(3.99,0.038),(4.05,0.04),(4.12,0.042),(4.18,0.045),(4.28,0.044),(4.38,0.04),(4.48,0.035),(4.58,0.03),(4.68,0.026),(4.78,0.024),(4.84,0.04),(4.89,0.1),(4.93,0.147),(4.97,0.1),(5.02,0.05),(5.08,0.03),(5.14,0.035),(5.20,0.045),(5.27,0.05),(5.34,0.055),(5.40,0.057),(5.46,0.052),(5.52,0.048),(5.60,0.05),(5.70,0.048),(5.80,0.042),(5.90,0.035),(5.97,0.027),(6.04,0.025),(6.12,0.027),(6.20,0.03),(6.26,0.065),(6.31,0.12),(6.35,0.153),(6.39,0.1),(6.44,0.05),(6.50,0.025),(6.56,0.018),(6.62,0.01),(6.68,0.006),(6.74,0.005),(6.80,0.005),(6.84,0.015),(6.88,0.045),(6.92,0.06),(6.96,0.025),(6.99,0.006),(7.04,0.025),(7.10,0.04),(7.20,0.045),(7.30,0.045),(7.40,0.035),(7.48,0.026),(7.56,0.026),(7.63,0.03),(7.68,0.07),(7.73,0.13),(7.77,0.153),(7.81,0.1),(7.86,0.05),(7.92,0.03),(7.98,0.018),(8.04,0.012),(8.10,0.012),(8.16,0.025),(8.21,0.03),(8.26,0.018),(8.32,0.015),(8.40,0.035),(8.48,0.05),(8.56,0.05),(8.66,0.045),(8.76,0.04),(8.86,0.03),(8.95,0.025),(9.02,0.03),(9.08,0.04),(9.14,0.08),(9.19,0.14),(9.23,0.15),(9.27,0.1),(9.32,0.04),(9.37,0.01),(9.42,0.008),(9.48,0.015),(9.55,0.028),(9.62,0.035),(9.70,0.04),(9.76,0.03),(9.82,0.01),(9.88,0.025),(9.94,0.045),(10.0,0.045)]

x_ticks = [0, 2, 4, 6, 8, 10]
vel_ticks = [0, 1, 2, 3, 4]
err_ticks = [0.0, 0.1, 0.2, 0.3]
vel_names = ["Actual Velocity", "Target Velocity"]
err_names = ["Trunk Position Error", "FL FootEnd Error", "FR FootEnd Error",
             "RL FootEnd Error", "RR FootEnd Error"]
captions = ["(a) Fixed-distance jumping.", "(b) Random-distance jumping."]

# ---------------- STYLE ----------------
W, H = 832, 743
SERIF = "Liberation Serif, Times New Roman, serif"
AX = "#555555"
VEL_COLORS = ["#138f13", "#F5A465"]
VEL_WIDTHS = [2.0, 2.4]
ERR_COLORS = ["#585858", "#EF4A4A", "#6AAE1F", "#1515F5", "#FF10FF"]


def fx(p):
    return p / W


def fy(p):
    return 1 - p / H


def unzip(pairs):
    return [p[0] for p in pairs], [p[1] for p in pairs]


# panel geometry in pixels: (left, right, top, bottom);
# legend text start x and item centre ys (pixels)
panels = [
    dict(ax="", kind="vel", series=[fixed_actual_vel, fixed_target_vel],
         geo=(50, 378, 14, 280), leg_x=295, leg_y=[26, 50]),
    dict(ax="2", kind="err", series=[fixed_trunk_err, fixed_fl_err, fixed_fr_err, fixed_rl_err, fixed_rr_err],
         geo=(494, 813, 24, 282), leg_x=603, leg_y=[13, 36, 58, 81, 103]),
    dict(ax="3", kind="vel", series=[random_actual_vel, random_target_vel],
         geo=(50, 382, 389, 656), leg_x=298, leg_y=[402, 424]),
    dict(ax="4", kind="err", series=[random_trunk_err, random_fl_err, random_fr_err, random_rl_err, random_rr_err],
         geo=(496, 817, 399, 657), leg_x=605, leg_y=[389, 412, 434, 457, 479]),
]

fig = go.Figure()

tickfont = dict(family=SERIF, size=17, color="#111111")
common_axis = dict(showgrid=False, zeroline=False, showline=True, linecolor=AX,
                   linewidth=1.4, ticks="outside", ticklen=6, tickwidth=1.3,
                   tickcolor=AX, tickfont=tickfont, mirror=False)

layout = dict(width=W, height=H, margin=dict(l=0, r=0, t=0, b=0, autoexpand=False),
              paper_bgcolor="white", plot_bgcolor="white", showlegend=True)

leg_counter = 0
for p in panels:
    a = p["ax"]
    names = vel_names if p["kind"] == "vel" else err_names
    colors = VEL_COLORS if p["kind"] == "vel" else ERR_COLORS
    fsize = 18 if p["kind"] == "vel" else 17
    for i, s in enumerate(p["series"]):
        leg_counter += 1
        leg_key = "legend" if leg_counter == 1 else "legend%d" % leg_counter
        t, v = unzip(s)
        w = VEL_WIDTHS[i] if p["kind"] == "vel" else 1.7
        fig.add_trace(go.Scatter(
            x=t, y=v, mode="lines", name=names[i],
            line=dict(color=colors[i], width=w),
            xaxis="x" + a, yaxis="y" + a, legend=leg_key,
            hoverinfo="skip"))
        layout[leg_key] = dict(
            x=fx(p["leg_x"] - 40), y=fy(p["leg_y"][i] - 18.5),
            xanchor="left", yanchor="top", bgcolor="rgba(0,0,0,0)",
            font=dict(family=SERIF, size=fsize, color="#111111"))

    l, r, t_, b = p["geo"]
    xa = dict(common_axis, domain=[fx(l), fx(r)], range=[0, 10], tickvals=x_ticks,
              anchor="y" + a, ticklabelstandoff=-5,
              minor=dict(dtick=1, tick0=0, ticks="outside", ticklen=3, tickwidth=1.2, tickcolor=AX))
    if p["kind"] == "vel":
        ya = dict(common_axis, domain=[fy(b), fy(t_)], range=[0, 4], tickvals=vel_ticks,
                  anchor="x" + a, ticklabelstandoff=-1,
                  minor=dict(dtick=0.5, tick0=0, ticks="outside", ticklen=3, tickwidth=1.2, tickcolor=AX))
    else:
        ya = dict(common_axis, domain=[fy(b), fy(t_)], range=[0, 0.35], tickvals=err_ticks,
                  tickformat=".1f", anchor="x" + a, ticklabelstandoff=-1,
                  minor=dict(dtick=0.05, tick0=0, ticks="outside", ticklen=3, tickwidth=1.2, tickcolor=AX))
    layout["xaxis" + a] = xa
    layout["yaxis" + a] = ya

fig.update_layout(**layout)

# axis titles and captions
title_font = dict(family=SERIF, size=18, color="#111111")
ytitle_font = dict(family=SERIF, size=16.5, color="#111111")
annos = [
    ("<b>Velocity (m/s)</b>", 15, 148, -90, ytitle_font),
    ("<b>Time (s)</b>", 214, 319, 0, title_font),
    ("<b>Position Error (m)</b>", 442, 160, -90, ytitle_font),
    ("<b>Time(s)</b>", 583, 319, 0, title_font),
    ("<b>Velocity (m/s)</b>", 14, 522, -90, ytitle_font),
    ("<b>Time (s)</b>", 217, 695, 0, title_font),
    ("<b>Position Error (m)</b>", 442, 529, -90, ytitle_font),
    ("<b>Time(s)</b>", 586, 695, 0, title_font),
    (captions[0], 416, 354, 0, dict(family=SERIF, size=18, color="#111111")),
    (captions[1], 416, 730, 0, dict(family=SERIF, size=18, color="#111111")),
]
for text, x, y, ang, f in annos:
    fig.add_annotation(text=text, x=fx(x), y=fy(y), xref="paper", yref="paper",
                       xanchor="center", yanchor="middle", showarrow=False,
                       textangle=ang, font=f)

fig.write_html("out.html")
